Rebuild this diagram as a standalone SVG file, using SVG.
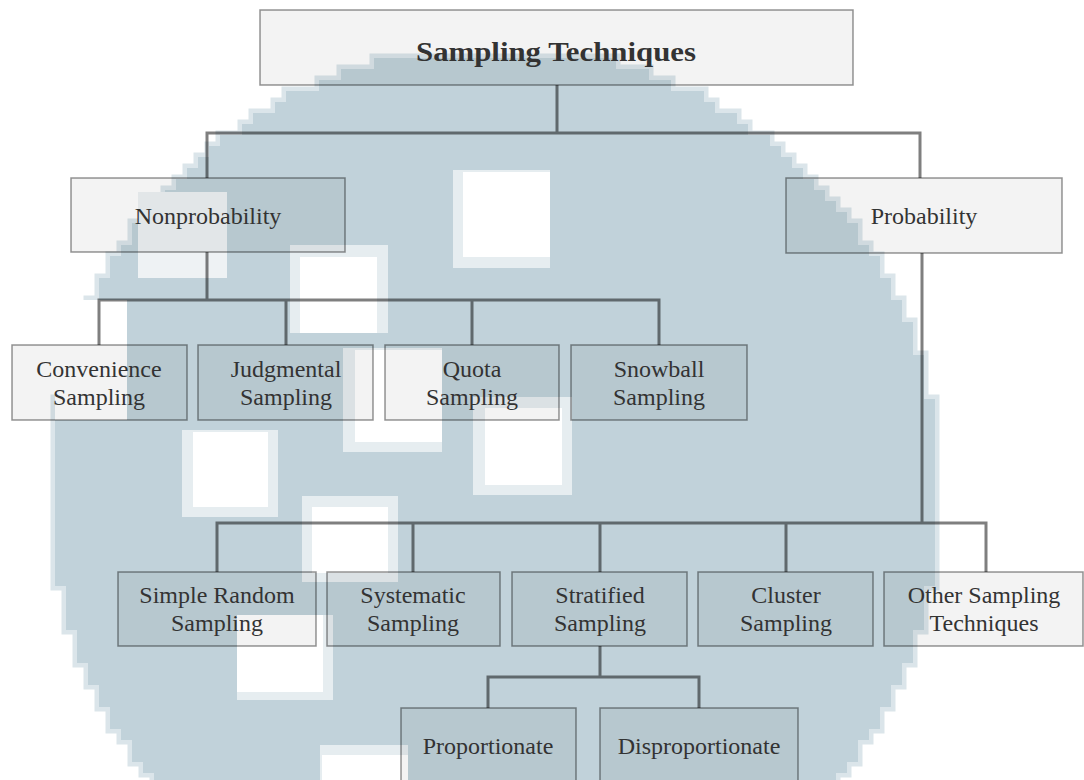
<svg xmlns="http://www.w3.org/2000/svg" width="1084" height="780" viewBox="0 0 1084 780">
  <style>
    .box { fill: rgba(0,0,0,0.047); stroke: rgba(0,0,0,0.42); stroke-width: 1.5; }
    .lbl { font-family: "Liberation Serif", "Times New Roman", serif; font-size: 24px; fill: #333; text-anchor: middle; }
    .ttl { font-family: "Liberation Serif", "Times New Roman", serif; font-size: 28px; font-weight: bold; fill: #333; text-anchor: middle; }
    .wire { fill: none; stroke: rgba(0,0,0,0.5); stroke-width: 3; stroke-linejoin: miter; }
    .halo { fill: #e6edf0; }
    .hole { fill: #ffffff; }
  </style>
  <defs>
    <!-- blocky disc outline on an 11px grid -->
    <path id="disc" d="M374 58 H616 v11 H649 v11 H671 v11 H704 v11 H715 v11 H737 v11 H748 v11 H770 v11 H781 v11 H792 v11 H803 v11 H814 v11 H825 v11 H836 v11 H847 v11 H858 v22 H869 v11 H880 v22 H891 v22 H902 v22 H913 v33 H924 v44 H935 v187 H924 v44 H913 v33 H902 v22 H891 v22 H880 v22 H869 v11 H858 v22 H847 v11 H836 v11 H154 v-11 H143 v-11 H132 v-22 H121 v-11 H110 v-22 H99 v-22 H88 v-22 H77 v-33 H66 v-44 H55 v-187 H66 v-44 H77 v-33 H88 v-22 H99 v-22 H110 v-22 H121 v-11 H132 v-22 H143 v-11 H154 v-11 H165 v-11 H176 v-11 H187 v-11 H198 v-11 H209 v-11 H220 v-11 H242 v-11 H253 v-11 H275 v-11 H286 v-11 H319 v-11 H341 v-11 H374 v-11 Z"/>
  </defs>

  <rect width="1084" height="780" fill="#ffffff"/>

  <!-- background emblem: tinted blocky disc with white blocks -->
  <g id="emblem">
    <use href="#disc" fill="none" stroke="#dbe5ea" stroke-width="9"/>
    <use href="#disc" fill="#c1d2da"/>
    <rect x="55" y="300" width="72" height="120" class="hole"/>
    <rect x="138" y="192" width="89" height="86" fill="#eef2f4"/>
    <rect x="453" y="170" width="97" height="98" class="halo"/>
    <rect x="463" y="172" width="87" height="85" class="hole"/>
    <rect x="290" y="245" width="98" height="88" class="halo"/>
    <rect x="300" y="257" width="77" height="76" class="hole"/>
    <rect x="343" y="348" width="99" height="104" class="halo"/>
    <rect x="355" y="350" width="87" height="92" class="hole"/>
    <rect x="473" y="397" width="99" height="98" class="halo"/>
    <rect x="485" y="408" width="77" height="77" class="hole"/>
    <rect x="182" y="430" width="96" height="87" class="halo"/>
    <rect x="193" y="432" width="75" height="75" class="hole"/>
    <rect x="302" y="496" width="96" height="86" class="halo"/>
    <rect x="312" y="507" width="76" height="66" class="hole"/>
    <rect x="237" y="615" width="96" height="85" class="halo"/>
    <rect x="237" y="615" width="86" height="77" class="hole"/>
    <rect x="320" y="745" width="88" height="35" class="halo"/>
    <rect x="322" y="755" width="86" height="25" class="hole"/>
  </g>

  <g id="connectors">
    <path class="wire" d="M557 85 V133 M207 178 V133 H920 V178"/>
    <path class="wire" d="M207 252 V300 M99 345 V300 H659 V345 M286 300 V345 M472 300 V345"/>
    <path class="wire" d="M922 253 V523 M217 572 V523 H986 V572 M413 523 V572 M600 523 V572 M786 523 V572"/>
    <path class="wire" d="M600 646 V677 M488 708 V677 H699 V708"/>
  </g>

  <g id="node-root">
    <rect class="box" x="260" y="10" width="593" height="75"/>
    <text class="ttl" x="556" y="61" textLength="280" lengthAdjust="spacingAndGlyphs">Sampling Techniques</text>
  </g>
  <g id="node-nonprobability">
    <rect class="box" x="71" y="178" width="274" height="74"/>
    <text class="lbl" x="208" y="224">Nonprobability</text>
  </g>
  <g id="node-probability">
    <rect class="box" x="786" y="178" width="276" height="75"/>
    <text class="lbl" x="924" y="224">Probability</text>
  </g>

  <g id="node-convenience">
    <rect class="box" x="12" y="345" width="175" height="75"/>
    <text class="lbl" x="99" y="377">Convenience</text>
    <text class="lbl" x="99" y="405">Sampling</text>
  </g>
  <g id="node-judgmental">
    <rect class="box" x="198" y="345" width="175" height="75"/>
    <text class="lbl" x="286" y="377">Judgmental</text>
    <text class="lbl" x="286" y="405">Sampling</text>
  </g>
  <g id="node-quota">
    <rect class="box" x="385" y="345" width="174" height="75"/>
    <text class="lbl" x="472" y="377">Quota</text>
    <text class="lbl" x="472" y="405">Sampling</text>
  </g>
  <g id="node-snowball">
    <rect class="box" x="571" y="345" width="176" height="75"/>
    <text class="lbl" x="659" y="377">Snowball</text>
    <text class="lbl" x="659" y="405">Sampling</text>
  </g>

  <g id="node-simple-random">
    <rect class="box" x="118" y="572" width="198" height="74"/>
    <text class="lbl" x="217" y="603">Simple Random</text>
    <text class="lbl" x="217" y="631">Sampling</text>
  </g>
  <g id="node-systematic">
    <rect class="box" x="327" y="572" width="173" height="74"/>
    <text class="lbl" x="413" y="603">Systematic</text>
    <text class="lbl" x="413" y="631">Sampling</text>
  </g>
  <g id="node-stratified">
    <rect class="box" x="512" y="572" width="175" height="74"/>
    <text class="lbl" x="600" y="603">Stratified</text>
    <text class="lbl" x="600" y="631">Sampling</text>
  </g>
  <g id="node-cluster">
    <rect class="box" x="698" y="572" width="175" height="74"/>
    <text class="lbl" x="786" y="603">Cluster</text>
    <text class="lbl" x="786" y="631">Sampling</text>
  </g>
  <g id="node-other">
    <rect class="box" x="884" y="572" width="199" height="74"/>
    <text class="lbl" x="984" y="603">Other Sampling</text>
    <text class="lbl" x="984" y="631">Techniques</text>
  </g>

  <g id="node-proportionate">
    <rect class="box" x="401" y="708" width="175" height="80"/>
    <text class="lbl" x="488" y="754">Proportionate</text>
  </g>
  <g id="node-disproportionate">
    <rect class="box" x="600" y="708" width="198" height="80"/>
    <text class="lbl" x="699" y="754">Disproportionate</text>
  </g>
</svg>
